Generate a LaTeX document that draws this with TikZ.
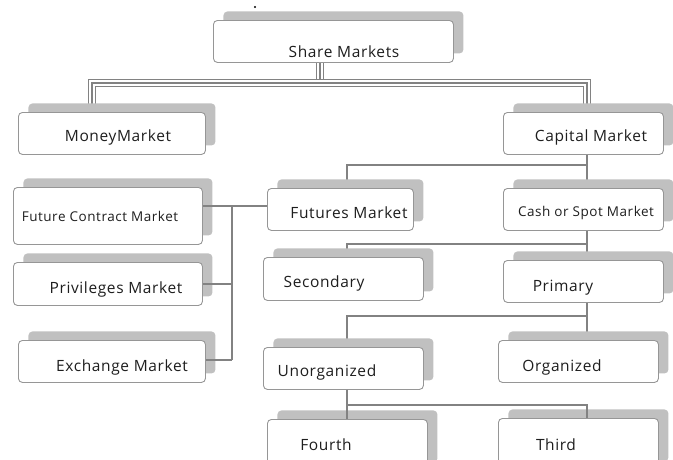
\documentclass[tikz,border=0pt]{standalone}
\usepackage{fontspec}
\setmainfont{Open Sans}[LetterSpace=4]
\usetikzlibrary{shadows}
\definecolor{shadowgray}{RGB}{192,192,192}
\definecolor{framegray}{RGB}{150,150,150}
\definecolor{linegray}{RGB}{130,130,130}
\definecolor{inkgray}{RGB}{30,30,30}
\pgfdeclarelayer{background}
\pgfsetlayers{background,main}
\begin{document}
\begin{tikzpicture}[x=1pt,y=-1pt,
  card/.style={rectangle, rounded corners=4pt, draw=framegray, line width=0.9pt,
    fill=white, inner sep=0pt, anchor=north west,
    general shadow={shadow xshift=10pt, shadow yshift=9pt, fill=shadowgray}},
  lbl/.style={font=\fontsize{15.5}{17}\selectfont, text=inkgray, inner sep=0pt},
  lblsmall/.style={font=\fontsize{13.5}{15}\selectfont, text=inkgray, inner sep=0pt},
  conn/.style={draw=linegray, line width=1.8pt},
  triple/.style={draw=linegray, line width=8pt, line join=miter,
    postaction={draw=white, line width=5.4pt, line join=miter},
    postaction={draw=linegray, line width=1.2pt, line join=miter}}]
\useasboundingbox (0,0) rectangle (673,459);
\clip (0,0) rectangle (673,459);

% column guides for the connectors
\coordinate (lcol) at (92,0);
\coordinate (sharecol) at (320,0);
\coordinate (mcol) at (347,0);
\coordinate (rcol) at (587,0);
\coordinate (bcol) at (232,0);

% boxes
\node[card, minimum width=240pt, minimum height=42pt] (share) at (213,20) {};
\node[card, minimum width=187pt, minimum height=42pt] (money) at (18,112) {};
\node[card, minimum width=160pt, minimum height=42pt] (capital) at (503,112) {};
\node[card, minimum width=189pt, minimum height=57pt] (fcontract) at (13,187) {};
\node[card, minimum width=189pt, minimum height=43pt] (privileges) at (13,262) {};
\node[card, minimum width=187pt, minimum height=42pt] (exchange) at (18,340) {};
\node[card, minimum width=146pt, minimum height=42pt] (futures) at (267,188) {};
\node[card, minimum width=160pt, minimum height=42pt] (cash) at (503,188) {};
\node[card, minimum width=160pt, minimum height=43pt] (secondary) at (263,257) {};
\node[card, minimum width=160pt, minimum height=42pt] (primary) at (503,260) {};
\node[card, minimum width=160pt, minimum height=42pt] (unorganized) at (263,347) {};
\node[card, minimum width=160pt, minimum height=42pt] (organized) at (498,340) {};
\node[card, minimum width=160pt, minimum height=52pt] (fourth) at (267,419) {};
\node[card, minimum width=160pt, minimum height=52pt] (third) at (498,418) {};

% texts
\node[lbl] (t-share) at (344,52) {Share Markets};
\node[lbl] (t-money) at (118,137) {MoneyMarket};
\node[lbl] (t-capital) at (591,137) {Capital Market};
\node[lblsmall] (t-fcontract) at (100,216) {Future Contract Market};
\node[lbl] (t-privileges) at (116,289) {Privileges Market};
\node[lbl] (t-exchange) at (122,367) {Exchange Market};
\node[lbl] (t-futures) at (349,213) {Futures Market};
\node[lblsmall] (t-cash) at (586,213) {Cash or Spot Market};
\node[lbl] (t-secondary) at (324,283) {Secondary};
\node[lbl] (t-primary) at (563,288) {Primary};
\node[lbl] (t-unorganized) at (327,372) {Unorganized};
\node[lbl] (t-organized) at (562,367) {Organized};
\node[lbl] (t-fourth) at (326,445) {Fourth};
\node[lbl] (t-third) at (556,445) {Third};

\fill[black] (255,7) circle (1.1pt);

% connectors that run behind the shadows
\begin{pgfonlayer}{background}
  \draw[triple] (share.south -| sharecol) -- (sharecol |- 0,83);
  \draw[triple] (money.north -| lcol) -- (lcol |- 0,83) -- (rcol |- 0,83) -- (capital.north -| rcol);
  \draw[conn] (capital.south -| rcol) -- (cash.north -| rcol);
  \draw[conn] (capital.south -| rcol) |- (mcol |- 0,165) -- (futures.north -| mcol);
  \draw[conn] (cash.south -| rcol) -- (primary.north -| rcol);
  \draw[conn] (cash.south -| rcol) |- (mcol |- 0,244) -- (secondary.north -| mcol);
  \draw[conn] (primary.south -| rcol) -- (organized.north -| rcol);
  \draw[conn] (primary.south -| rcol) |- (mcol |- 0,316) -- (unorganized.north -| mcol);
\end{pgfonlayer}

% connectors drawn over the shadows
\draw[conn] (unorganized.south -| mcol) -- (fourth.north -| mcol);
\draw[conn] (unorganized.south -| mcol) |- (rcol |- 0,405) -- (third.north -| rcol);
\draw[conn] (fcontract.east |- 0,206) -- (futures.west |- 0,206);
\draw[conn] (bcol |- 0,206) -- (bcol |- 0,360);
\draw[conn] (privileges.east |- 0,284) -- (bcol |- 0,284);
\draw[conn] (exchange.east |- 0,360) -- (bcol |- 0,360);
\end{tikzpicture}
\end{document}
